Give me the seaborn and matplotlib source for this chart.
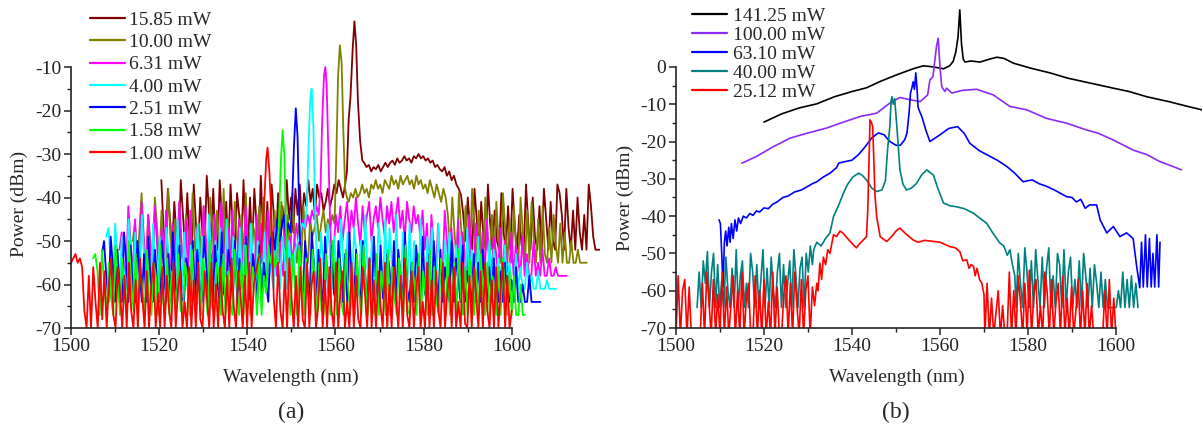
import numpy as np
import pandas as pd
import matplotlib
matplotlib.use("Agg")
import matplotlib.pyplot as plt
from matplotlib.ticker import FixedLocator
import seaborn as sns

# ---------------------------------------------------------------------------
# Panel (a): spectra below / around threshold (pump power in mW)
# each series is a list of segments: (start, end, values) for sampled stretches
# or (wavelengths, values) for hand-placed points
# ---------------------------------------------------------------------------
labels_a = ["15.85 mW", "10.00 mW", "6.31 mW", "4.00 mW", "2.51 mW", "1.58 mW", "1.00 mW"]
colors_a = ["#800000", "#808000", "#FF00FF", "#00FFFF", "#0000FF", "#00FF00", "#FF0000"]

red_a = [
    (1500.0, 1543.0, [-55, -54, -53, -55, -54, -56, -66, -70, -58, -70, -56, -64, -70, -55, -68, -57, -70, -60, -54, -67,
                      -70, -56, -62, -70, -58, -70, -55, -66, -70, -59, -70, -54, -63, -70, -57, -70, -60, -55, -70, -62,
                      -70, -56, -70, -58, -66, -70, -55, -70, -61, -57, -70, -64, -70, -56, -70, -59, -70, -55, -68, -70,
                      -57, -63, -70, -55, -70, -60, -70, -56, -66, -70, -58, -70, -54, -65, -70, -57, -62, -70, -58, -70,
                      -55, -70, -60, -57, -54, -53]),
    ([1543.4, 1543.9, 1544.3, 1544.6, 1545.0, 1545.5, 1546.0], [-48, -40, -31, -28.5, -34, -45, -63]),
    (1546.5, 1600.0, [-70, -55, -66, -70, -57, -70, -54, -63, -70, -58, -70, -56, -68, -70, -55, -70, -60, -57, -70, -65,
                      -54, -70, -59, -70, -56, -66, -70, -55, -70, -61, -57, -70, -64, -70, -55, -70, -58, -68, -70, -56,
                      -62, -70, -54, -70, -59, -70, -57, -65, -70, -55, -70, -60, -70, -56, -63, -70, -58, -70, -54, -67,
                      -70, -57, -70, -61, -56, -70, -64, -70, -55, -70, -59, -70, -57, -66, -70, -55, -70, -62, -58, -70,
                      -56, -70, -64, -70, -55, -69, -70, -58, -70, -56, -63, -70, -57, -70, -55, -66, -70, -59, -70, -56,
                      -70, -61, -55, -70, -58, -70, -66]),
]

green_a = [
    (1505.0, 1546.8, [-54, -53, -57, -67, -52, -60, -67, -55, -63, -67, -51, -58, -67, -54, -62, -67, -50, -59, -66, -53,
                      -67, -56, -61, -67, -52, -64, -67, -55, -58, -67, -51, -63, -67, -54, -67, -57, -60, -67, -53, -66,
                      -67, -55, -59, -67, -52, -62, -67, -56, -67, -54, -61, -67, -50, -65, -67, -55, -58, -67, -53, -67,
                      -57, -64, -67, -52, -60, -67, -55, -67, -51, -63, -67, -56, -59, -67, -53, -67, -58, -62, -51, -55,
                      -52, -56, -54]),
    ([1547.2, 1547.6, 1548.0, 1548.4, 1548.8, 1549.3], [-45, -32, -24.5, -30, -48, -60]),
    (1549.8, 1603.0, [-67, -53, -60, -67, -51, -57, -67, -54, -62, -67, -52, -59, -67, -55, -66, -67, -53, -61, -67, -50,
                      -58, -67, -54, -64, -67, -52, -60, -67, -56, -67, -53, -62, -67, -51, -59, -67, -55, -65, -67, -53,
                      -67, -57, -61, -67, -52, -67, -56, -63, -67, -54, -59, -67, -51, -66, -67, -55, -60, -67, -53, -67,
                      -57, -62, -67, -52, -67, -56, -64, -67, -54, -58, -67, -53, -67, -60, -55, -67, -52, -63, -67, -56,
                      -67, -54, -59, -67, -57, -67, -53, -62, -67, -55, -67, -58, -60, -67, -56, -67, -54, -61, -67, -57,
                      -67, -58, -67, -67, -60, -67, -67]),
]

blue_a = [
    (1507.0, 1549.8, [-53, -50, -58, -64, -49, -56, -64, -52, -60, -64, -48, -55, -64, -51, -62, -64, -50, -57, -64, -53,
                      -64, -49, -59, -64, -52, -61, -64, -50, -56, -64, -53, -64, -48, -58, -64, -51, -63, -64, -54, -57,
                      -64, -50, -64, -52, -60, -64, -49, -55, -64, -53, -64, -51, -59, -64, -48, -62, -64, -52, -56, -64,
                      -50, -64, -54, -58, -64, -49, -61, -64, -53, -57, -64, -51, -64, -55, -60, -64, -50, -48, -52, -45,
                      -50, -47, -44, -49, -46, -48]),
    ([1550.2, 1550.6, 1551.0, 1551.4, 1551.8, 1552.2], [-40, -28, -19.5, -26, -45, -58]),
    (1552.6, 1606.5, [-64, -50, -57, -64, -48, -55, -64, -52, -60, -64, -49, -58, -64, -51, -62, -64, -50, -56, -64, -53,
                      -64, -48, -59, -64, -52, -61, -64, -50, -57, -64, -54, -64, -49, -60, -64, -51, -63, -64, -53, -56,
                      -64, -50, -64, -52, -58, -64, -48, -61, -64, -55, -64, -51, -57, -64, -49, -62, -64, -53, -64, -50,
                      -59, -64, -52, -64, -56, -60, -64, -50, -64, -54, -58, -64, -51, -64, -57, -61, -64, -53, -64, -55,
                      -64, -52, -60, -64, -56, -64, -54, -62, -64, -57, -64, -55, -64, -64, -59, -64, -56, -64, -64, -60,
                      -64, -64, -58, -64, -64, -64, -64, -64]),
]

cyan_a = [
    (1508.0, 1553.0, [-49, -47, -55, -61, -46, -53, -61, -49, -58, -61, -45, -52, -61, -48, -57, -61, -44, -54, -61, -50,
                      -61, -46, -56, -61, -49, -59, -61, -47, -53, -61, -50, -61, -45, -55, -61, -48, -60, -61, -51, -54,
                      -61, -46, -61, -49, -57, -61, -44, -52, -61, -50, -61, -47, -56, -61, -45, -59, -61, -49, -53, -61,
                      -47, -61, -51, -55, -61, -46, -58, -61, -50, -54, -61, -48, -61, -52, -57, -61, -47, -55, -61, -49,
                      -53, -61, -50, -56, -58, -52, -50, -48, -46, -47]),
    ([1553.5, 1553.9, 1554.3, 1554.6, 1555.0, 1555.4, 1555.8], [-42, -28, -17, -15, -24, -44, -55]),
    (1556.2, 1610.0, [-61, -48, -55, -61, -46, -52, -61, -49, -57, -61, -45, -54, -61, -48, -59, -61, -47, -53, -61, -50,
                      -61, -44, -56, -61, -49, -58, -61, -46, -52, -61, -45, -61, -47, -55, -61, -44, -60, -61, -48, -53,
                      -61, -46, -61, -50, -56, -61, -45, -58, -61, -49, -61, -47, -54, -61, -46, -59, -61, -50, -61, -48,
                      -55, -61, -51, -61, -49, -57, -61, -47, -61, -52, -56, -61, -49, -61, -53, -58, -61, -50, -61, -52,
                      -61, -54, -57, -61, -51, -61, -55, -59, -61, -53, -61, -56, -61, -61, -55, -61, -58, -61, -61, -57,
                      -61, -61, -61, -59, -61, -61, -61, -61]),
]

magenta_a = [
    (1511.0, 1556.2, [-52, -48, -55, -58, -42, -50, -58, -45, -54, -58, -41, -49, -58, -44, -53, -58, -42, -51, -58, -47,
                      -58, -43, -55, -58, -46, -52, -58, -41, -50, -58, -45, -58, -43, -56, -58, -47, -53, -58, -42, -49,
                      -58, -46, -58, -44, -54, -58, -41, -51, -58, -47, -58, -43, -55, -58, -45, -50, -58, -42, -58, -48,
                      -53, -58, -44, -58, -46, -56, -58, -43, -52, -58, -47, -58, -45, -54, -58, -44, -58, -49, -55, -50,
                      -46, -52, -48, -45, -47, -44, -46, -43, -45, -42, -44]),
    ([1556.6, 1557.0, 1557.4, 1557.7, 1558.0, 1558.4, 1558.8, 1559.2], [-38, -22, -12, -10, -14, -30, -46, -55]),
    (1559.6, 1612.5, [-52, -44, -48, -42, -50, -45, -41, -49, -43, -47, -40, -46, -51, -42, -48, -44, -41, -50, -45, -42,
                      -47, -40, -45, -49, -42, -46, -41, -48, -44, -40, -47, -43, -50, -41, -45, -48, -42, -46, -44, -49,
                      -43, -52, -46, -58, -44, -51, -58, -46, -55, -58, -43, -50, -58, -47, -54, -58, -45, -58, -48, -53,
                      -58, -44, -56, -58, -46, -51, -58, -48, -58, -45, -55, -58, -49, -52, -58, -47, -58, -50, -56, -58,
                      -48, -58, -51, -54, -58, -49, -58, -53, -58, -58, -50, -58, -55, -58, -52, -58, -58, -54, -58, -58,
                      -56, -58, -58, -58, -58, -58]),
]

olive_a = [
    (1514.0, 1559.8, [-50, -46, -55, -48, -39, -52, -55, -44, -50, -55, -40, -47, -55, -43, -52, -55, -38, -49, -55, -45,
                      -55, -41, -53, -55, -44, -48, -55, -39, -51, -55, -46, -55, -42, -54, -55, -40, -47, -55, -43, -50,
                      -55, -38, -55, -45, -52, -55, -41, -49, -55, -44, -55, -39, -53, -55, -46, -48, -55, -42, -55, -40,
                      -51, -55, -45, -55, -43, -54, -55, -41, -47, -55, -44, -55, -39, -50, -55, -46, -55, -42, -52, -55,
                      -45, -49, -47, -44, -50, -46, -43, -48, -45, -47, -44, -46]),
    ([1560.2, 1560.6, 1561.0, 1561.4, 1561.8, 1562.2, 1562.6], [-30, -12, -5, -9, -25, -38, -40]),
    (1563.0, 1585.0, [-41, -39, -40, -38, -40, -39, -37, -39, -38, -40, -37, -38, -36, -38, -37, -39, -36, -37, -38, -35,
                      -37, -36, -38, -35, -37, -36, -35, -37, -36, -38, -35, -37, -36, -38, -37, -39, -36, -38, -40, -37,
                      -39, -41, -38, -40]),
    (1585.5, 1617.0, [-44, -52, -40, -48, -55, -39, -47, -55, -42, -51, -55, -38, -46, -55, -43, -53, -55, -40, -49, -55,
                      -44, -55, -41, -50, -55, -39, -47, -55, -45, -55, -42, -52, -55, -40, -48, -55, -43, -55, -41, -50,
                      -55, -45, -55, -42, -53, -55, -47, -55, -44, -51, -55, -46, -55, -48, -55, -55, -50, -55, -55, -52,
                      -55, -55, -55, -55]),
]

maroon_a = [
    (1520.5, 1562.2, [-36, -47, -52, -38, -45, -52, -41, -49, -52, -36, -44, -52, -39, -50, -52, -37, -46, -52, -40, -48,
                      -52, -35, -43, -52, -38, -51, -52, -36, -45, -52, -41, -52, -37, -47, -52, -39, -44, -52, -36, -50,
                      -52, -40, -52, -38, -46, -52, -35, -48, -52, -41, -52, -37, -44, -52, -39, -52, -42, -47, -36, -45,
                      -40, -48, -38, -44, -37, -46, -39, -42, -36, -41, -38, -44, -37, -40, -39, -43, -41, -38, -42, -40,
                      -37, -39, -36, -38, -40, -37]),
    ([1562.6, 1563.0, 1563.4, 1563.9, 1564.3, 1564.7, 1565.1, 1565.6, 1566.1], [-34, -22, -17, -6, 0.5, -5, -18, -27, -31.5]),
    (1566.5, 1588.5, [-32, -33, -32.5, -34, -33, -33.5, -32.5, -34, -33, -32, -33, -32, -31.5, -32.5, -31, -32, -31.5,
                      -30.5, -31.5, -31, -32, -30.5, -31, -30, -31, -30.5, -31.5, -31, -32, -31.5, -33, -32.5, -33.5,
                      -34, -33, -35, -34, -36, -35, -37, -38, -39.5]),
    (1589.0, 1620.0, [-44, -50, -40, -47, -52, -38, -45, -52, -41, -49, -52, -37, -46, -52, -43, -50, -52, -39, -48, -52,
                      -42, -52, -38, -47, -52, -44, -51, -52, -37, -46, -52, -40, -49, -52, -42, -52, -38, -45, -52, -41,
                      -50, -52, -37, -39, -44, -52, -38, -47, -52, -43, -52, -40, -48, -52, -44, -52, -37, -42, -49, -52,
                      -52, -52]),
]

series_a = [maroon_a, olive_a, magenta_a, cyan_a, blue_a, green_a, red_a]

# ---------------------------------------------------------------------------
# Panel (b): spectra above threshold
# ---------------------------------------------------------------------------
labels_b = ["141.25 mW", "100.00 mW", "63.10 mW", "40.00 mW", "25.12 mW"]
colors_b = ["#000000", "#8B2BF5", "#0000FF", "#008080", "#FF0000"]

black_b = [
    ([1520, 1524, 1528, 1532, 1536, 1540, 1543.3, 1546.4, 1550.2, 1553.9, 1556.2, 1558.5, 1560.8, 1562.2, 1563.0,
      1563.6, 1564.1, 1564.5, 1564.9, 1565.3, 1565.7, 1567.0, 1569.1, 1571.0, 1572.9, 1574.5, 1576.7, 1580.5,
      1585.0, 1589.0, 1594.0, 1599.4, 1603.0, 1607.0, 1612.0, 1616.0, 1619.5],
     [-14.8, -12.6, -11.0, -9.9, -8.0, -6.6, -5.6, -3.9, -2.1, -0.5, 0.3, 0.0, -0.5, 0.3, 1.5,
      4.0, 8.0, 15.3, 6.0, 2.0, 1.3, 1.6, 1.3, 2.0, 2.6, 2.3, 1.0, -0.3,
      -1.6, -3.0, -4.3, -5.7, -6.6, -8.0, -9.3, -10.5, -11.5]),
]

purple_b = [
    ([1515.0, 1518.3, 1522.1, 1525.9, 1529.7, 1534.2, 1537.3, 1541.8, 1545.6, 1548.6, 1550.9, 1553.2, 1555.5,
      1557.2, 1557.7, 1558.4, 1559.2, 1559.6, 1560.0, 1560.4, 1561.1, 1561.5, 1562.7, 1565.0, 1568.3, 1572.1,
      1575.9, 1579.7, 1584.2, 1588.8, 1593.3, 1596.0, 1599.4, 1603.9, 1607.0, 1610.0, 1612.5, 1614.9],
     [-25.8, -24.0, -21.4, -19.1, -17.8, -16.4, -15.1, -13.3, -12.4, -9.7, -8.2, -8.8, -9.3,
      -7.5, -3.5, -2.6, 5.4, 7.7, 0.0, -5.3, -6.6, -5.7, -7.0, -6.3, -6.0, -7.5,
      -10.6, -11.5, -13.8, -15.1, -16.9, -17.8, -19.6, -22.3, -23.5, -25.4, -26.5, -27.6]),
]

blue_b = [
    ([1509.8, 1510.1, 1510.4, 1510.7, 1511.0, 1511.3, 1511.6, 1512.0, 1512.3, 1512.6, 1513.0, 1513.4, 1513.8,
      1514.2, 1514.7, 1515.3, 1516.0, 1516.8, 1517.5, 1518.3, 1519.0, 1520.0, 1521.0, 1522.0, 1523.0, 1524.3,
      1525.5, 1527.0, 1528.5, 1530.0, 1531.0, 1532.0, 1533.5, 1535.0, 1536.5, 1537.0, 1538.0, 1540.0, 1541.5,
      1543.0, 1544.5, 1546.0, 1547.3, 1548.6, 1550.0, 1551.0, 1552.0, 1552.5, 1553.0, 1553.3, 1553.6, 1553.9,
      1554.2, 1554.5, 1554.8, 1555.0, 1555.4, 1555.9, 1556.8, 1557.7, 1559.0, 1560.0, 1562.0, 1564.0, 1565.5,
      1566.8, 1569.0, 1571.4, 1573.0, 1575.2, 1577.0, 1578.9, 1580.0, 1581.0, 1582.5, 1584.2, 1586.0, 1588.8,
      1590.0, 1591.0, 1592.0, 1593.0, 1594.0, 1595.6, 1596.4, 1597.9, 1599.4, 1600.9, 1602.4, 1603.9, 1604.6,
      1605.4, 1605.8, 1606.2, 1606.7, 1607.1, 1607.6, 1608.0, 1608.4, 1608.8, 1609.3, 1609.7, 1610.0],
     [-41, -42, -50, -59, -47, -44, -48, -43, -47, -42, -46, -41, -44,
      -40.5, -42, -40, -40.5, -39.3, -39.8, -38.6, -38.9, -37.8, -38, -36.8, -36.2, -35,
      -34.6, -33.5, -33, -32, -31.3, -30.8, -29.5, -28.5, -27, -25.8, -25.5, -25, -23.5,
      -21.4, -19, -17.7, -18.2, -20, -21, -21, -19.5, -17.7, -12, -7, -5.7, -4,
      -6, -1.6, -6, -10.7, -12, -13.4, -17, -20, -19, -18.2, -16.5, -16, -17.8,
      -20.5, -22.5, -24, -25, -26.7, -28.5, -30.8, -30.5, -30.3, -31.3, -32, -33, -34.8,
      -35, -36.2, -35.5, -37.9, -37, -37, -41, -44.5, -42.8, -45.5, -44.5, -46, -52.6,
      -59.2, -47, -59, -45, -59, -46, -59, -50, -59, -45, -59, -47]),
]

teal_b = [
    (1504.8, 1531.0, [-64.5, -55, -64.5, -52, -58, -49.5, -64.5, -55, -50, -64.5, -53, -64.5, -57, -64.5, -51, -60,
                      -64.5, -54, -64.5, -49, -64.5, -56, -52, -64.5, -58, -64.5, -50, -55, -64.5, -53, -64.5, -57,
                      -49, -64.5, -54, -64.5, -51, -60, -64.5, -55, -50, -64.5, -53, -64.5, -58, -52, -64.5, -49,
                      -56, -64.5, -54, -51, -64.5, -50, -55, -48, -53]),
    ([1531.3, 1532.0, 1533.0, 1534.0, 1535.0, 1535.8, 1537.0, 1538.0, 1539.0, 1540.2, 1541.5, 1542.3, 1543.3,
      1544.5, 1545.6, 1546.8, 1547.6, 1548.1, 1548.6, 1548.9, 1549.1, 1549.4, 1549.7, 1550.2, 1550.9, 1551.6,
      1552.4, 1553.5, 1554.7, 1555.8, 1557.0, 1558.5, 1559.5, 1560.8, 1562.2, 1563.8, 1565.5, 1567.6, 1569.0,
      1570.6, 1572.0, 1573.6, 1574.5, 1575.3, 1575.9, 1576.4, 1577.0],
     [-49, -47, -48, -46, -44.5, -40.1, -37, -34, -31.5, -29.5, -28.5, -29, -30.3,
      -32.5, -33.4, -33, -30.5, -22, -16, -9, -8, -10, -8.5, -16, -27.6, -31.5,
      -33, -32.5, -31.2, -29, -27.6, -29, -32.5, -36.5, -37.2, -37.5, -38, -39.2, -40.5,
      -41.9, -44.5, -47.2, -48, -50.5, -49, -52.6, -56]),
    (1577.3, 1605.0, [-64.5, -50, -58, -64.5, -48.5, -55, -64.5, -52, -64.5, -49, -57, -64.5, -51, -64.5, -54, -48.5,
                      -64.5, -56, -64.5, -50, -53, -64.5, -49, -64.5, -55, -51, -64.5, -57, -64.5, -52, -64.5, -50,
                      -56, -64.5, -54, -64.5, -53, -58, -64.5, -55, -64.5, -57, -64.5, -64.5, -64.5, -64.5, -64.5,
                      -60, -64.5, -55, -64.5, -57, -64.5, -56, -64.5, -58, -64.5]),
]

red_b = [
    (1500.0, 1532.0, [-72, -56, -72, -60, -57, -72, -59, -72, -72, -72, -72, -72, -58, -72, -55, -63, -72, -57, -72,
                      -61, -72, -55, -72, -59, -72, -64, -56, -72, -60, -72, -55, -72, -62, -58, -72, -72, -56, -72,
                      -60, -72, -57, -72, -63, -72, -55, -72, -59, -72, -72, -61, -56, -72, -58, -72, -55, -64, -72,
                      -57, -72, -60, -56, -72, -59, -64, -58]),
    ([1532.3, 1532.7, 1533.1, 1533.5, 1534.0, 1534.5, 1535.0, 1535.8, 1536.5, 1537.3, 1538.0, 1539.0, 1540.3,
      1541.0, 1541.8, 1542.5, 1543.3, 1543.6, 1543.9, 1544.1, 1544.4, 1544.7, 1545.0, 1545.2, 1545.6, 1546.4,
      1547.9, 1549.0, 1550.0, 1550.9, 1552.0, 1553.9, 1555.0, 1556.5, 1558.5, 1560.0, 1562.3, 1563.5, 1564.5,
      1565.2, 1566.1, 1566.6, 1567.1, 1567.6, 1568.0, 1568.4, 1569.0, 1569.5, 1570.0],
     [-60, -52.6, -57, -51, -53, -49, -50, -45, -45.5, -44, -44.6, -46, -47.7,
      -48.5, -47.3, -46.5, -45.5, -38, -24, -14.2, -14.8, -16, -26, -33.9, -40, -45.5,
      -46.8, -45.5, -44, -43.2, -44.5, -46.4, -47, -46.5, -46.8, -47, -48.2, -48.5, -49.5,
      -52, -51.7, -54, -53, -53.4, -56, -54, -57, -58, -61]),
    (1570.2, 1600.0, [-72, -58, -72, -62, -72, -66, -60, -72, -64, -72, -72, -55, -72, -60, -72, -56, -63, -72, -58,
                      -72, -54.5, -72, -61, -57, -72, -64, -72, -55, -60, -72, -57, -72, -63, -58, -72, -56, -72,
                      -62, -72, -59, -72, -65, -57, -72, -60, -72, -58, -72, -64, -72, -72, -72, -72, -72, -60, -72,
                      -57, -72, -62, -72]),
]

series_b = [black_b, purple_b, blue_b, teal_b, red_b]


def to_frame(series_list, labels):
    rows = []
    for segs, lab in zip(series_list, labels):
        for seg in segs:
            if len(seg) == 3:
                xs = np.linspace(seg[0], seg[1], len(seg[2]))
                ys = np.asarray(seg[2], dtype=float)
            else:
                xs = np.asarray(seg[0], dtype=float)
                ys = np.asarray(seg[1], dtype=float)
            rows.append(pd.DataFrame({"wavelength": xs, "power": ys, "series": lab}))
    return pd.concat(rows, ignore_index=True)


df_a = to_frame(series_a, labels_a)
df_b = to_frame(series_b, labels_b)

sns.set_theme(style="ticks")
plt.rcParams["font.family"] = ["Liberation Serif", "DejaVu Serif"]
plt.rcParams["axes.unicode_minus"] = False

fig = plt.figure(figsize=(12.03, 4.28), dpi=100)
ax_a = fig.add_axes([0.0590, 0.2336, 0.4397, 0.7318])
ax_b = fig.add_axes([0.5619, 0.2336, 0.4371, 0.7582])

sns.lineplot(data=df_a, x="wavelength", y="power", hue="series", hue_order=labels_a,
             palette=dict(zip(labels_a, colors_a)), estimator=None, sort=False,
             linewidth=1.3, ax=ax_a)
sns.lineplot(data=df_b, x="wavelength", y="power", hue="series", hue_order=labels_b,
             palette=dict(zip(labels_b, colors_b)), estimator=None, sort=False,
             linewidth=1.2, ax=ax_b)

FS = 14
panel_px = {ax_a: (71, 529, 313.2), ax_b: (676, 525.8, 324.5)}
for ax, ymax, ytop, lab_y, xcen in [(ax_a, 2, -10, 0.396, 291), (ax_b, 17, 0, 0.40, 897)]:
    x0, wpx, hpx = panel_px[ax]
    ax.set_xlim(1500, 1619.5 if ax is ax_b else 1620)
    ax.set_ylim(-70, ymax)
    ax.spines["top"].set_visible(False)
    ax.spines["right"].set_visible(False)
    ax.spines["left"].set_bounds(-70, ytop)
    ax.spines["bottom"].set_bounds(1500, 1600)
    for s in ("left", "bottom"):
        ax.spines[s].set_linewidth(1.2)
        ax.spines[s].set_color("#222222")
    ax.xaxis.set_major_locator(FixedLocator(np.arange(1500, 1601, 20)))
    ax.xaxis.set_minor_locator(FixedLocator(np.arange(1510, 1600, 20)))
    ax.yaxis.set_major_locator(FixedLocator(np.arange(-70, ytop + 1, 10)))
    ax.yaxis.set_minor_locator(FixedLocator(np.arange(-65, ytop, 10)))
    ax.tick_params(which="major", direction="out", length=5, width=1.1, labelsize=FS, pad=2, colors="#222222")
    ax.tick_params(which="minor", direction="out", length=3, width=1.0, colors="#222222")
    ax.set_xlabel("Wavelength (nm)", fontsize=FS)
    ax.set_ylabel("Power (dBm)", fontsize=FS)
    ax.xaxis.set_label_coords((xcen - x0) / wpx, -41 / hpx)
    ax.yaxis.set_label_coords((28 - 71) / 529 if ax is ax_a else (634 - 676) / 525.8, lab_y)
    ax.set_facecolor("none")

h, l = ax_a.get_legend_handles_labels()
ax_a.legend(h, l, loc="upper left", bbox_to_anchor=(90 / 1203, 1 - 11 / 428),
            bbox_transform=fig.transFigure, frameon=False, fontsize=FS,
            handlelength=1.8, handletextpad=0.2, labelspacing=0.245,
            borderpad=0, borderaxespad=0)
h, l = ax_b.get_legend_handles_labels()
ax_b.legend(h, l, loc="upper left", bbox_to_anchor=(692 / 1203, 1 - 7 / 428),
            bbox_transform=fig.transFigure, frameon=False, fontsize=FS,
            handlelength=1.8, handletextpad=0.3, labelspacing=0.08,
            borderpad=0, borderaxespad=0)
for leg in (ax_a.get_legend(), ax_b.get_legend()):
    for line in leg.get_lines():
        line.set_linewidth(1.6)

fig.text(291 / 1203, 1 - 412 / 428, "(a)", ha="center", va="center", fontsize=17)
fig.text(896 / 1203, 1 - 412 / 428, "(b)", ha="center", va="center", fontsize=17)

fig.savefig("out.png", dpi=100, facecolor="white")
